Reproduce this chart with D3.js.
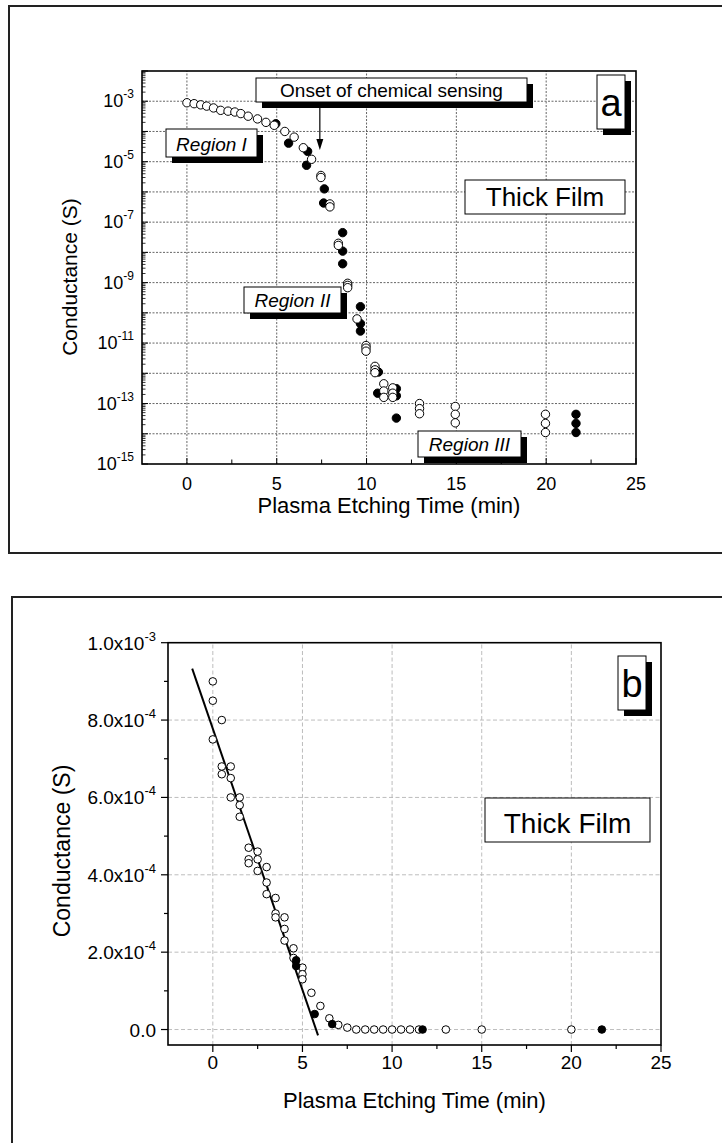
<!DOCTYPE html>
<html><head><meta charset="utf-8">
<script src="https://cdn.jsdelivr.net/npm/d3@7"></script>
<style>
body{margin:0;background:#fff}
svg{display:block}
text{font-family:"Liberation Sans",Arial,Helvetica,sans-serif;fill:#000}
</style>
</head><body>
<script>
// ---------------- DATA ----------------
// Panel a (log scale): open and filled circles [time (min), conductance (S)]
const aOpen = [
  [0,8.9e-4],[0.4,8.3e-4],[0.77,7.6e-4],[1.1,6.9e-4],[1.48,6.0e-4],[1.88,5.0e-4],
  [2.29,4.7e-4],[2.67,4.4e-4],[3.0,3.9e-4],[3.41,3.2e-4],[3.93,2.6e-4],[4.4,2.0e-4],
  [4.86,1.6e-4],[5.45,1.0e-4],[5.97,6.5e-5],[6.48,2.9e-5],[6.94,1.2e-5],
  [7.46,3.5e-6],[7.46,3.0e-6],[7.96,4.0e-7],[7.96,3.2e-7],[8.43,2.0e-8],[8.43,1.7e-8],
  [8.95,9.5e-10],[8.95,8.1e-10],[8.95,6.8e-10],[9.47,6.3e-11],
  [9.97,8.3e-12],[9.97,6.8e-12],[9.97,5.4e-12],
  [10.47,1.7e-12],[10.47,1.3e-12],[10.47,1.05e-12],
  [10.96,4.5e-13],[10.96,2.6e-13],[10.96,1.6e-13],
  [11.46,3.3e-13],[11.46,2.2e-13],[11.46,1.6e-13],
  [12.95,1.0e-13],[12.95,6.8e-14],[12.95,4.6e-14],
  [14.94,8.0e-14],[14.94,4.4e-14],[14.94,2.3e-14],
  [19.96,4.4e-14],[19.96,2.2e-14],[19.96,1.1e-14]
];
const aFilled = [
  [4.95,1.8e-4],[5.66,4.1e-5],[6.72,2.2e-5],[6.66,7.6e-6],[7.65,1.26e-6],[7.61,4.3e-7],
  [8.67,4.5e-8],[8.67,1.1e-8],[8.67,4.2e-9],[9.66,1.6e-10],[9.66,4.4e-11],[9.66,2.5e-11],
  [10.66,1.1e-12],[10.62,2.2e-13],[11.66,3.1e-13],[11.66,1.8e-13],[11.66,3.3e-14],
  [21.66,4.4e-14],[21.66,2.2e-14],[21.66,1.1e-14]
];
// Panel b (linear scale)
const bOpen = [
  [0,9.0e-4],[0,8.5e-4],[0,7.5e-4],
  [0.5,8.0e-4],[0.5,6.8e-4],[0.5,6.6e-4],
  [1,6.8e-4],[1,6.5e-4],[1,6.0e-4],
  [1.5,6.0e-4],[1.5,5.8e-4],[1.5,5.5e-4],
  [2,4.7e-4],[2,4.4e-4],[2,4.3e-4],
  [2.5,4.6e-4],[2.5,4.4e-4],[2.5,4.1e-4],
  [3,4.2e-4],[3,3.8e-4],[3,3.5e-4],
  [3.5,3.4e-4],[3.5,3.0e-4],[3.5,2.9e-4],
  [4,2.9e-4],[4,2.6e-4],[4,2.3e-4],
  [4.5,2.1e-4],[4.5,1.85e-4],
  [5,1.6e-4],[5,1.43e-4],[5,1.3e-4],
  [5.5,9.5e-5],[6,6.1e-5],[6.5,2.9e-5],[7,1.2e-5],[7.5,5e-6],
  [8,0],[8.5,0],[9,0],[9.5,0],[10,0],[10.5,0],[11,0],[11.5,0],[13,0],[15,0],[20,0]
];
const bFilled = [
  [4.65,1.79e-4],[4.65,1.64e-4],[5.68,4.0e-5],[6.66,1.4e-5],[11.7,0],[21.7,0]
];
// Linear fit in panel b (end points)
const fitX = [-1.15, 5.87];
const fitY = [9.33e-4, -1.5e-5];

// Ticks / labels
const xTicks = [0,5,10,15,20,25];
const xMinor = [2.5,7.5,12.5,17.5,22.5];
const xGrid = [0,5,10,15,20];
const aYLabelExp = [-3,-5,-7,-9,-11,-13,-15];
const bYTicks = [0,2e-4,4e-4,6e-4,8e-4,1e-3];
const bYLabels = ["0.0","2.0x10^-4","4.0x10^-4","6.0x10^-4","8.0x10^-4","1.0x10^-3"];
const bYMinor = [1e-4,3e-4,5e-4,7e-4,9e-4];
const xTitle = "Plasma Etching Time (min)";
const yTitle = "Conductance (S)";

// ---------------- DRAW ----------------
const svg = d3.select("body").append("svg").attr("width",722).attr("height",1143);

function supText(sel, str, supSize, dy){
  const parts = str.split("^");
  sel.append("tspan").text(parts[0]);
  if(parts[1]) sel.append("tspan").attr("font-size",supSize).attr("dy",dy).text(parts[1]);
}
function labelBox(g, o){
  if(o.shadow) g.append("rect").attr("x",o.x0+6).attr("y",o.y0+6)
     .attr("width",o.x1-o.x0).attr("height",o.y1-o.y0).attr("fill","#000");
  g.append("rect").attr("x",o.x0).attr("y",o.y0).attr("width",o.x1-o.x0).attr("height",o.y1-o.y0)
     .attr("fill","#fff").attr("stroke","#000").attr("stroke-width",1);
  g.append("text").attr("x",(o.x0+o.x1)/2).attr("y",o.y1-o.pad).attr("text-anchor","middle")
     .attr("font-size",o.fs).attr("font-style",o.italic?"italic":"normal").text(o.text);
}

// outer frames
svg.append("rect").attr("x",9).attr("y",6).attr("width",740).attr("height",547)
  .attr("fill","none").attr("stroke","#222").attr("stroke-width",2);
svg.append("rect").attr("x",12).attr("y",597).attr("width",740).attr("height",600)
  .attr("fill","none").attr("stroke","#222").attr("stroke-width",2);

// ======== Panel a ========
const gA = svg.append("g");
const xA = d3.scaleLinear().domain([-2.5,25]).range([142,636]);
const yA = d3.scaleLog().domain([1e-15,1e-2]).range([464,71]);
const decades = d3.range(-15,-1).map(e=>Math.pow(10,e));

// grid
gA.selectAll(".gx").data(xGrid).join("line")
  .attr("x1",d=>xA(d)).attr("x2",d=>xA(d)).attr("y1",yA.range()[0]).attr("y2",yA.range()[1])
  .attr("stroke","#555").attr("stroke-width",0.9).attr("stroke-dasharray","2,1.5");
gA.selectAll(".gy").data(decades.filter(d=>d>1e-15&&d<1e-2)).join("line")
  .attr("x1",xA.range()[0]).attr("x2",xA.range()[1]).attr("y1",d=>yA(d)).attr("y2",d=>yA(d))
  .attr("stroke","#555").attr("stroke-width",0.9).attr("stroke-dasharray","2,1.5");

// y ticks (inward)
const yMinorA = [];
decades.forEach(d=>{ if(d<1e-2) for(let k=2;k<=9;k++) yMinorA.push(d*k); });
gA.selectAll(".ymn").data(yMinorA).join("line")
  .attr("x1",xA(-2.5)).attr("x2",xA(-2.5)+3.5).attr("y1",d=>yA(d)).attr("y2",d=>yA(d))
  .attr("stroke","#000").attr("stroke-width",0.8);
gA.selectAll(".ymj").data(decades).join("line")
  .attr("x1",xA(-2.5)).attr("x2",xA(-2.5)+6).attr("y1",d=>yA(d)).attr("y2",d=>yA(d))
  .attr("stroke","#000").attr("stroke-width",1);
// x ticks (inward)
gA.selectAll(".xmj").data(xTicks).join("line")
  .attr("x1",d=>xA(d)).attr("x2",d=>xA(d)).attr("y1",yA(1e-15)).attr("y2",yA(1e-15)-6)
  .attr("stroke","#000").attr("stroke-width",1);
gA.selectAll(".xmn").data(xMinor).join("line")
  .attr("x1",d=>xA(d)).attr("x2",d=>xA(d)).attr("y1",yA(1e-15)).attr("y2",yA(1e-15)-4.5)
  .attr("stroke","#000").attr("stroke-width",1);

// plot frame
gA.append("rect").attr("x",xA(-2.5)).attr("y",yA(1e-2)).attr("width",xA(25)-xA(-2.5))
  .attr("height",yA(1e-15)-yA(1e-2)).attr("fill","none").attr("stroke","#000").attr("stroke-width",1.6);

// tick labels
gA.selectAll(".yl").data(aYLabelExp).join("text")
  .attr("x",134).attr("y",d=>yA(Math.pow(10,d))+6).attr("text-anchor","end").attr("font-size",18)
  .each(function(d){ supText(d3.select(this),"10^"+d,12,-9); });
gA.selectAll(".xl").data(xTicks).join("text")
  .attr("x",d=>xA(d)).attr("y",490).attr("text-anchor","middle").attr("font-size",18).text(d=>d);
gA.append("text").attr("x",(xA(-2.5)+xA(25))/2).attr("y",513).attr("text-anchor","middle")
  .attr("font-size",22).text(xTitle);
gA.append("text").attr("transform","translate(77,277) rotate(-90)").attr("text-anchor","middle")
  .attr("font-size",21).text(yTitle);

// annotations
labelBox(gA,{x0:256,y0:78,x1:527,y1:102,shadow:true,text:"Onset of chemical sensing",fs:19,pad:5});
gA.append("line").attr("x1",xA(7.4)).attr("x2",xA(7.4)).attr("y1",108).attr("y2",140)
  .attr("stroke","#000").attr("stroke-width",1.2);
gA.append("path").attr("d",`M${xA(7.4)-3.5},139 L${xA(7.4)+3.5},139 L${xA(7.4)},150 Z`).attr("fill","#000");
labelBox(gA,{x0:166,y0:129,x1:257,y1:157,shadow:true,text:"Region I",fs:19,italic:true,pad:6});
labelBox(gA,{x0:244,y0:287,x1:341,y1:313,shadow:true,text:"Region II",fs:19,italic:true,pad:6});
labelBox(gA,{x0:418,y0:431,x1:521,y1:457,shadow:true,text:"Region III",fs:19,italic:true,pad:6});
labelBox(gA,{x0:465,y0:180,x1:625,y1:214,shadow:false,text:"Thick Film",fs:26,pad:8});
labelBox(gA,{x0:597,y0:75,x1:625,y1:129,shadow:true,text:"a",fs:38,pad:13});

// data
gA.selectAll(".af").data(aFilled).join("circle")
  .attr("cx",d=>xA(d[0])).attr("cy",d=>yA(d[1])).attr("r",4.2)
  .attr("fill","#000").attr("stroke","#000").attr("stroke-width",1);
gA.selectAll(".ao").data(aOpen).join("circle")
  .attr("cx",d=>xA(d[0])).attr("cy",d=>yA(d[1])).attr("r",4.2)
  .attr("fill","#fff").attr("stroke","#000").attr("stroke-width",1);

// ======== Panel b ========
const gB = svg.append("g");
const xB = d3.scaleLinear().domain([-2.5,25]).range([168,661]);
const yB = d3.scaleLinear().domain([-4e-5,1e-3]).range([1045,642.7]);

gB.selectAll(".gx").data(xGrid).join("line")
  .attr("x1",d=>xB(d)).attr("x2",d=>xB(d)).attr("y1",yB.range()[0]).attr("y2",yB.range()[1])
  .attr("stroke","#b5b5b5").attr("stroke-width",0.9).attr("stroke-dasharray","4,2.5");
gB.selectAll(".gy").data(bYTicks.filter(d=>d<1e-3)).join("line")
  .attr("x1",xB.range()[0]).attr("x2",xB.range()[1]).attr("y1",d=>yB(d)).attr("y2",d=>yB(d))
  .attr("stroke","#b5b5b5").attr("stroke-width",0.9).attr("stroke-dasharray","4,2.5");

// ticks outward
gB.selectAll(".ymj").data(bYTicks).join("line")
  .attr("x1",xB(-2.5)).attr("x2",xB(-2.5)-7).attr("y1",d=>yB(d)).attr("y2",d=>yB(d))
  .attr("stroke","#000").attr("stroke-width",1.2);
gB.selectAll(".ymn").data(bYMinor).join("line")
  .attr("x1",xB(-2.5)).attr("x2",xB(-2.5)-4).attr("y1",d=>yB(d)).attr("y2",d=>yB(d))
  .attr("stroke","#000").attr("stroke-width",1.2);
gB.selectAll(".xmj").data(xTicks).join("line")
  .attr("x1",d=>xB(d)).attr("x2",d=>xB(d)).attr("y1",yB(-4e-5)).attr("y2",yB(-4e-5)+7)
  .attr("stroke","#000").attr("stroke-width",1.2);
gB.selectAll(".xmn").data(xMinor).join("line")
  .attr("x1",d=>xB(d)).attr("x2",d=>xB(d)).attr("y1",yB(-4e-5)).attr("y2",yB(-4e-5)+4)
  .attr("stroke","#000").attr("stroke-width",1.2);

gB.append("rect").attr("x",xB(-2.5)).attr("y",yB(1e-3)).attr("width",xB(25)-xB(-2.5))
  .attr("height",yB(-4e-5)-yB(1e-3)).attr("fill","none").attr("stroke","#000").attr("stroke-width",1.6);

gB.selectAll(".yl").data(bYTicks).join("text")
  .attr("x",156).attr("y",d=>yB(d)+7).attr("text-anchor","end").attr("font-size",19)
  .each(function(d,i){ supText(d3.select(this),bYLabels[i],13,-9); });
gB.selectAll(".xl").data(xTicks).join("text")
  .attr("x",d=>xB(d)).attr("y",1069).attr("text-anchor","middle").attr("font-size",19).text(d=>d);
gB.append("text").attr("x",(xB(-2.5)+xB(25))/2).attr("y",1108).attr("text-anchor","middle")
  .attr("font-size",22).text(xTitle);
gB.append("text").attr("transform","translate(70,851) rotate(-90)").attr("text-anchor","middle")
  .attr("font-size",23).text(yTitle);

labelBox(gB,{x0:485,y0:798,x1:650,y1:842,shadow:false,text:"Thick Film",fs:28,pad:9});
labelBox(gB,{x0:618,y0:656,x1:646,y1:710,shadow:true,text:"b",fs:38,pad:13});

// fit line
gB.append("line").attr("x1",xB(fitX[0])).attr("y1",yB(fitY[0])).attr("x2",xB(fitX[1])).attr("y2",yB(fitY[1]))
  .attr("stroke","#000").attr("stroke-width",2);

gB.selectAll(".bo").data(bOpen).join("circle")
  .attr("cx",d=>xB(d[0])).attr("cy",d=>yB(d[1])).attr("r",3.8)
  .attr("fill","#fff").attr("stroke","#000").attr("stroke-width",1);
gB.selectAll(".bf").data(bFilled).join("circle")
  .attr("cx",d=>xB(d[0])).attr("cy",d=>yB(d[1])).attr("r",3.8)
  .attr("fill","#000").attr("stroke","#000").attr("stroke-width",1);
</script>
</body></html>
